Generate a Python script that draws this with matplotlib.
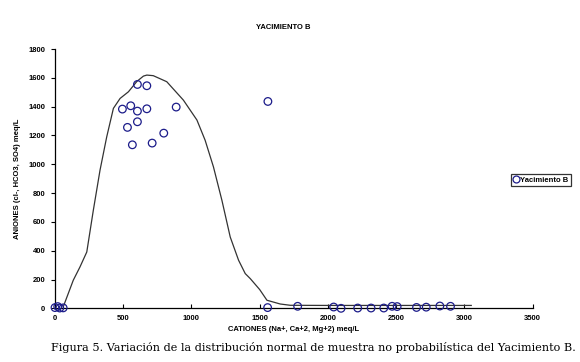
import matplotlib.pyplot as plt
from matplotlib.lines import Line2D

# curva de distribucion normal
curve_x = [60, 134, 183, 233, 281, 330, 379, 428, 477, 538, 600, 648, 673,
           720, 819, 941, 1040, 1100, 1161, 1223, 1284, 1345, 1394, 1431,
           1500, 1553, 1650, 1724, 2000, 2500, 3050]
curve_y = [9, 195, 287, 391, 681, 959, 1190, 1388, 1457, 1503, 1575, 1612,
           1619, 1615, 1573, 1445, 1307, 1167, 982, 750, 495, 334, 241, 206,
           130, 56, 30, 21, 20, 20, 20]

# muestras del Yacimiento B
pts_x = [0, 20, 35, 60, 494, 555, 604, 673, 604, 673, 888, 604, 531, 567,
         712, 797, 1560, 1558, 1778, 2042, 2096, 2218, 2316, 2409, 2470,
         2507, 2649, 2720, 2820, 2898]
pts_y = [5, 12, 2, 3, 1383, 1406, 1554, 1545, 1369, 1385, 1397, 1295, 1256,
         1135, 1147, 1216, 1436, 5, 14, 9, 0, 2, 2, 2, 14, 12, 6, 8, 16, 14]

xticks = [0, 500, 1000, 1500, 2000, 2500, 3000, 3500]
yticks = [0, 200, 400, 600, 800, 1000, 1200, 1400, 1600, 1800]

plt.rcParams['font.family'] = ['Liberation Sans', 'DejaVu Sans']

fig = plt.figure(figsize=(5.8, 3.62), dpi=100)
ax = fig.add_axes([0.0948, 0.1483, 0.8236, 0.7163])

ax.plot(curve_x, curve_y, color='#333333', lw=0.9, zorder=2)
ax.scatter(pts_x, pts_y, s=30, facecolors='none', edgecolors='#1c1c8a',
           linewidths=0.9, zorder=3, clip_on=False)

ax.set_xlim(0, 3500)
ax.set_ylim(0, 1800)
ax.set_xticks(xticks)
ax.set_yticks(yticks)
for s in ['top', 'right']:
    ax.spines[s].set_visible(False)
for s in ['left', 'bottom']:
    ax.spines[s].set_linewidth(0.9)
ax.tick_params(axis='x', direction='in', length=3, width=0.8, labelsize=5.5,
               pad=5)
ax.tick_params(axis='y', direction='out', length=3, width=0.8, labelsize=5.5,
               pad=4)
for lab in ax.get_xticklabels() + ax.get_yticklabels():
    lab.set_fontweight('bold')

ax.set_xlabel('CATIONES (Na+, Ca+2, Mg+2) meq/L', fontsize=5.5,
              fontweight='bold', labelpad=3)
ax.set_ylabel('ANIONES (cl-, HCO3, SO4) meq/L', fontsize=5.5,
              fontweight='bold', labelpad=5)

fig.text(0.488, 0.925, 'YACIMIENTO B', fontsize=5.5, fontweight='bold',
         ha='center', va='center')

handle = Line2D([], [], ls='none', marker='o', markersize=5,
                markerfacecolor='none', markeredgecolor='#1c1c8a',
                markeredgewidth=0.9)
leg = fig.legend([handle], ['Yacimiento B'], loc='center',
                 bbox_to_anchor=(0.933, 0.502), fontsize=5.5, frameon=True,
                 fancybox=False, edgecolor='black', handlelength=0.6,
                 handletextpad=0.3, borderpad=0.3, borderaxespad=0)
leg.get_frame().set_linewidth(0.9)
for t in leg.get_texts():
    t.set_fontweight('bold')

fig.text(0.54, 0.04,
         'Figura 5. Variación de la distribución normal de muestra no '
         'probabilística del Yacimiento B.',
         fontsize=8.1, family='DejaVu Serif', ha='center', va='center')

fig.savefig('out.png', dpi=100)
